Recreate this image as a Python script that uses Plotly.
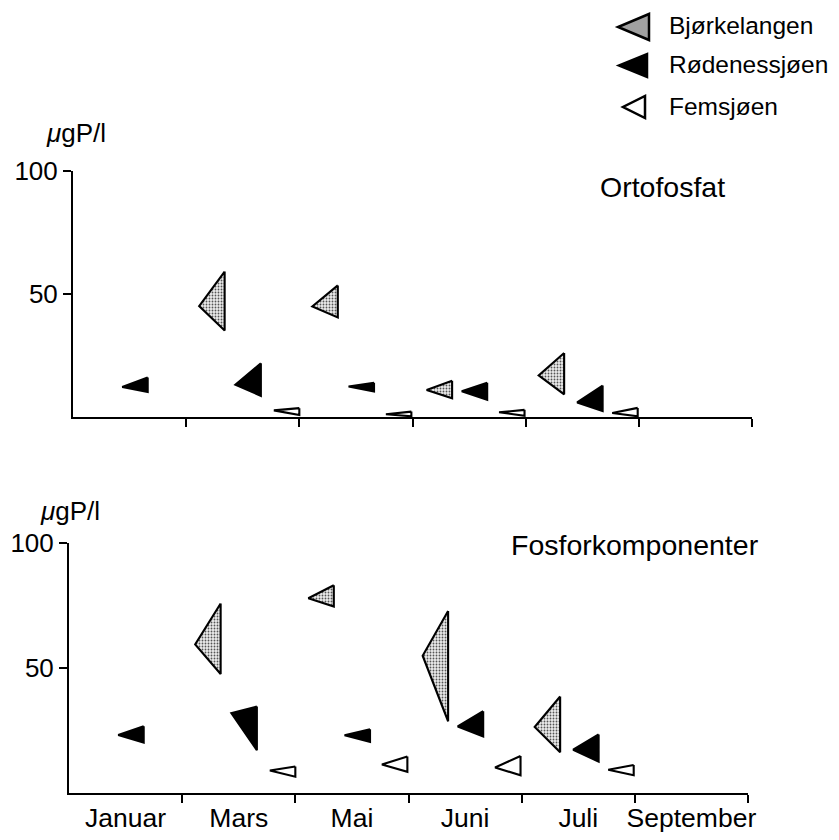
import plotly.graph_objects as go

# ---------------- data ----------------
months = ["Januar", "Mars", "Mai", "Juni", "Juli", "September"]
month_pos = [0.5, 1.5, 2.5, 3.5, 4.5, 5.5]
bounds = [1, 2, 3, 4, 5, 6]

lakes = ["Bjørkelangen", "Rødenessjøen", "Femsjøen"]

# sampling positions (month index units)
x_bjork = [1.34, 2.34, 3.35, 4.34]
x_roden = [0.66, 1.66, 2.66, 3.66, 4.68]
x_fems = [2.0, 2.99, 3.99, 4.99]

# Ortofosfat: mean (tip), max, min
orto_bjork_mean = [45.1, 44.9, 11.0, 16.9]
orto_bjork_max = [59.1, 53.5, 14.7, 26.0]
orto_bjork_min = [35.2, 40.5, 7.6, 9.2]
orto_roden_mean = [12.2, 13.1, 12.4, 10.5, 5.9]
orto_roden_max = [16.1, 21.8, 13.9, 13.9, 12.8]
orto_roden_min = [10.2, 8.6, 10.4, 7.0, 2.4]
orto_fems_mean = [2.7, 1.1, 1.9, 1.6]
orto_fems_max = [3.6, 2.2, 2.9, 3.7]
orto_fems_min = [0.8, 0.3, 0.5, 0.3]

# Fosforkomponenter: mean (tip), max, min
tot_bjork_mean = [59.4, 77.9, 54.9, 26.4]
tot_bjork_max = [75.8, 83.1, 72.8, 38.6]
tot_bjork_min = [47.6, 74.6, 28.7, 16.3]
tot_roden_mean = [23.2, 31.9, 23.1, 26.6, 17.3]
tot_roden_max = [26.7, 34.6, 25.5, 32.7, 23.4]
tot_roden_min = [20.2, 17.1, 20.4, 22.6, 12.6]
tot_fems_mean = [9.0, 11.4, 10.2, 9.3]
tot_fems_max = [10.6, 14.6, 14.8, 11.2]
tot_fems_min = [6.5, 8.5, 7.1, 7.1]

# ---------------- styling ----------------
W, H = 839, 840
OFF_X, OFF_Y = 7, 8  # page body margin compensation
TRI_W = 0.225
FONT = "Liberation Sans, Arial, sans-serif"
styles = {
    "Bjørkelangen": dict(fillcolor="#c8c8c8", pattern=True),
    "Rødenessjøen": dict(fillcolor="black", pattern=False),
    "Femsjøen": dict(fillcolor="white", pattern=False),
}


def px(x):
    return (x - OFF_X) / W


def py(y):
    return 1 - (y - OFF_Y) / H


def tri_path(xs, means, maxs, mins):
    X, Y = [], []
    for x, m, hi, lo in zip(xs, means, maxs, mins):
        X += [x, x, x - TRI_W, x, None]
        Y += [hi, lo, m, hi, None]
    return X, Y


fig = go.Figure()

panels = [
    ("x", "y", [
        ("Bjørkelangen", x_bjork, orto_bjork_mean, orto_bjork_max, orto_bjork_min),
        ("Rødenessjøen", x_roden, orto_roden_mean, orto_roden_max, orto_roden_min),
        ("Femsjøen", x_fems, orto_fems_mean, orto_fems_max, orto_fems_min),
    ]),
    ("x2", "y2", [
        ("Bjørkelangen", x_bjork, tot_bjork_mean, tot_bjork_max, tot_bjork_min),
        ("Rødenessjøen", x_roden, tot_roden_mean, tot_roden_max, tot_roden_min),
        ("Femsjøen", x_fems, tot_fems_mean, tot_fems_max, tot_fems_min),
    ]),
]

for xa, ya, series in panels:
    for name, xs, m, hi, lo in series:
        st = styles[name]
        X, Y = tri_path(xs, m, hi, lo)
        kw = {}
        if st["pattern"]:
            kw["fillpattern"] = dict(shape=".", fgcolor="#555555", bgcolor="#ebebeb",
                                     size=3, solidity=0.3)
        fig.add_trace(go.Scatter(
            x=X, y=Y, mode="lines", fill="toself", fillcolor=st["fillcolor"],
            line=dict(color="black", width=2.1), xaxis=xa, yaxis=ya,
            showlegend=False, hoverinfo="skip", **kw))

axis_common = dict(showgrid=False, zeroline=False, showline=True, automargin=False,
                   linecolor="black", linewidth=2)

xdom1 = [px(72), px(751)]
xdom2 = [px(68), px(747)]
ydom1 = [py(417), py(171)]
ydom2 = [py(793), py(543)]

fig.update_layout(
    template="none",
    width=W, height=H,
    margin=dict(l=0, r=0, t=0, b=0, pad=0, autoexpand=False),
    paper_bgcolor="white", plot_bgcolor="rgba(0,0,0,0)",
    font=dict(family=FONT, color="black", size=26),
    showlegend=False,
    xaxis=dict(domain=xdom1, range=[0, 6], anchor="y",
               tickvals=month_pos, ticktext=months, showticklabels=False, ticks="",
               minor=dict(tickvals=bounds, ticks="outside", ticklen=8,
                          tickwidth=2, tickcolor="black"),
               **axis_common),
    yaxis=dict(domain=ydom1, range=[0, 100], anchor="x",
               tickvals=[50, 100], ticks="outside", ticklen=8, tickwidth=2,
               tickcolor="black", tickfont=dict(size=26), **axis_common),
    xaxis2=dict(domain=xdom2, range=[0, 6], anchor="y2",
                tickvals=month_pos, ticktext=months, ticks="",
                tickfont=dict(size=26.5), ticklabelstandoff=0,
                minor=dict(tickvals=bounds, ticks="outside", ticklen=8,
                           tickwidth=2, tickcolor="black"),
                **axis_common),
    yaxis2=dict(domain=ydom2, range=[0, 100], anchor="x2",
                tickvals=[50, 100], ticks="outside", ticklen=8, tickwidth=2,
                tickcolor="black", tickfont=dict(size=26), **axis_common),
)

annotations = [
    dict(text="<i>μ</i>gP/l", x=px(75), y=py(133), size=26),
    dict(text="<i>μ</i>gP/l", x=px(69), y=py(511), size=26),
    dict(text="Ortofosfat", x=px(661), y=py(187), size=28.5),
    dict(text="Fosforkomponenter", x=px(634), y=py(545), size=28.5),
]
for a in annotations:
    size = a.pop("size")
    fig.add_annotation(xref="paper", yref="paper", showarrow=False,
                       xanchor="center", yanchor="middle",
                       font=dict(size=size, family=FONT, color="black"), **a)

# legend (icons + labels)
legend_rows = [(25, 617, 648, 14, 40), (65, 618, 646, 54, 77), (106, 622, 644, 96, 118)]
for name, (yc, xl, xr, yt, yb) in zip(lakes, legend_rows):
    st = styles[name]
    path = (f"M {px(xr)},{py(yt)} L {px(xr)},{py(yb)} "
            f"L {px(xl)},{py((yt + yb) / 2)} Z")
    fig.add_shape(type="path", path=path, xref="paper", yref="paper",
                  fillcolor=st["fillcolor"] if name != "Bjørkelangen" else "#a0a0a0",
                  line=dict(color="black", width=2.5))
    fig.add_annotation(xref="paper", yref="paper", showarrow=False,
                       x=px(666), y=py(yc), xanchor="left", yanchor="middle",
                       text=name, font=dict(size=24.5, family=FONT, color="black"))

fig.write_html("out.html")
